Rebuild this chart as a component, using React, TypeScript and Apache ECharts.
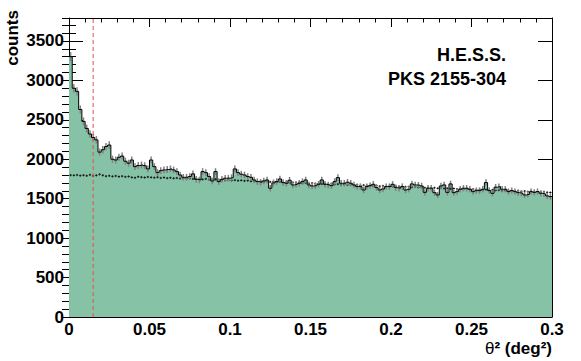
import React, { useEffect, useRef } from 'react';
import * as echarts from 'echarts';

// theta^2 histogram, bin width 0.002 deg^2, 150 bins from 0 to 0.3
const BIN_WIDTH = 0.002;
const X_MAX = 0.3;
const Y_MAX = 3790;
const THETA_CUT = 0.015;

const onCounts = [
  3300, 2900, 2860, 2630, 2480, 2390, 2320, 2275, 2245, 2090,
  2120, 2160, 2180, 2000, 1990, 2025, 2040, 1975, 1950, 1990,
  1906, 1920, 1927, 1918, 1877, 1990, 1906, 1830, 1855, 1864,
  1870, 1877, 1864, 1843, 1800, 1771, 1771, 1780, 1814, 1745,
  1737, 1843, 1830, 1780, 1724, 1843, 1716, 1745, 1759, 1759,
  1767, 1877, 1830, 1810, 1800, 1780, 1771, 1737, 1716, 1708,
  1725, 1737, 1632, 1700, 1716, 1750, 1704, 1695, 1733, 1674,
  1682, 1695, 1716, 1737, 1674, 1661, 1665, 1682, 1737, 1682,
  1674, 1665, 1716, 1767, 1695, 1695, 1708, 1695, 1674, 1653,
  1653, 1610, 1653, 1665, 1682, 1640, 1610, 1623, 1653, 1653,
  1682, 1640, 1632, 1653, 1610, 1619, 1687, 1674, 1670, 1661,
  1580, 1632, 1632, 1576, 1547, 1661, 1674, 1580, 1687, 1576,
  1589, 1619, 1632, 1632, 1619, 1589, 1602, 1602, 1619, 1704,
  1602, 1568, 1645, 1653, 1619, 1619, 1589, 1602, 1589, 1576,
  1568, 1547, 1555, 1589, 1580, 1589, 1568, 1560, 1535, 1526,
];

const offCounts = [
  1798, 1795, 1800, 1792, 1797, 1790, 1802, 1788, 1795, 1808,
  1796, 1785, 1790, 1782, 1788, 1779, 1785, 1776, 1781, 1770,
  1765, 1778, 1772, 1768, 1775, 1770, 1766, 1772, 1762, 1768,
  1760, 1765, 1758, 1762, 1754, 1760, 1752, 1756, 1750, 1755,
  1748, 1744, 1750, 1742, 1738, 1745, 1736, 1740, 1733, 1738,
  1730, 1735, 1728, 1732, 1725, 1729, 1720, 1726, 1718, 1722,
  1716, 1720, 1712, 1717, 1710, 1714, 1706, 1710, 1702, 1706,
  1700, 1704, 1696, 1700, 1692, 1697, 1689, 1693, 1686, 1690,
  1683, 1688, 1680, 1684, 1677, 1681, 1673, 1678, 1670, 1674,
  1667, 1671, 1664, 1668, 1661, 1665, 1658, 1662, 1655, 1659,
  1654, 1657, 1651, 1655, 1650, 1652, 1646, 1649, 1642, 1645,
  1638, 1641, 1634, 1638, 1631, 1635, 1628, 1632, 1625, 1629,
  1622, 1626, 1619, 1623, 1616, 1620, 1613, 1617, 1610, 1614,
  1607, 1611, 1604, 1608, 1601, 1605, 1598, 1602, 1595, 1599,
  1592, 1596, 1589, 1593, 1586, 1590, 1583, 1587, 1580, 1578,
];

const xTickLabels = ['0', '0.05', '0.1', '0.15', '0.2', '0.25', '0.3'];
const xTickStep = 0.05;
const yTickLabels = ['0', '500', '1000', '1500', '2000', '2500', '3000', '3500'];
const yTickStep = 500;

const FONT = '"Liberation Sans", Arial, Helvetica, sans-serif';
const GREEN = '#86c3a6';

export default function App() {
  const ref = useRef<HTMLDivElement>(null);

  useEffect(() => {
    if (!ref.current) return;
    const chart = echarts.init(ref.current, null, { renderer: 'svg' });

    const stepData: number[][] = onCounts.map((v, i) => [i * BIN_WIDTH, v]);
    stepData.push([onCounts.length * BIN_WIDTH, onCounts[onCounts.length - 1]]);

    const onErr = onCounts.map((v, i) => [(i + 0.5) * BIN_WIDTH, v, Math.sqrt(v)]);
    const offData = offCounts.map((v, i) => [i * BIN_WIDTH, (i + 1) * BIN_WIDTH, v, Math.sqrt(v) * 0.35]);

    const xLabelFmt = (v: number) => {
      const i = Math.round(v / xTickStep);
      return Math.abs(v - i * xTickStep) < 1e-9 && xTickLabels[i] !== undefined ? xTickLabels[i] : '';
    };
    const yLabelFmt = (v: number) => {
      const i = Math.round(v / yTickStep);
      return Math.abs(v - i * yTickStep) < 1e-6 && yTickLabels[i] !== undefined ? yTickLabels[i] : '';
    };

    const black = { color: '#000', width: 1 };
    const labelStyle = { fontFamily: FONT, fontWeight: 'bold' as const, fontSize: 17, color: '#000' };

    const baseX = {
      type: 'value' as const,
      min: 0,
      max: X_MAX,
      interval: xTickStep,
      splitLine: { show: false },
      minorSplitLine: { show: false },
      axisLine: { show: true, onZero: false, lineStyle: black },
      axisTick: { show: true, inside: true, length: 9, lineStyle: black },
      minorTick: { show: true, splitNumber: 5, length: 4.5, lineStyle: black },
    };

    const yMajor = (pos: 'left' | 'right', labels: boolean) => ({
      type: 'value' as const,
      position: pos,
      min: 0,
      max: Y_MAX,
      interval: yTickStep,
      splitLine: { show: false },
      axisLine: { show: true, onZero: false, lineStyle: black },
      axisTick: { show: true, inside: true, length: 14, lineStyle: black },
      axisLabel: labels
        ? { show: true, formatter: yLabelFmt, margin: 5, ...labelStyle }
        : { show: false },
    });
    const yMinor = (pos: 'left' | 'right') => ({
      type: 'value' as const,
      position: pos,
      min: 0,
      max: Y_MAX,
      interval: 100,
      splitLine: { show: false },
      axisLine: { show: false },
      axisTick: { show: true, inside: true, length: 7, lineStyle: black },
      axisLabel: { show: false },
    });

    chart.setOption({
      animation: false,
      backgroundColor: '#fff',
      grid: { left: 69, right: 29, top: 18, bottom: 44, containLabel: false },
      xAxis: [
        {
          ...baseX,
          position: 'bottom',
          axisLabel: { show: true, formatter: xLabelFmt, margin: 4, ...labelStyle },
        },
        { ...baseX, position: 'top', axisLabel: { show: false } },
      ],
      yAxis: [yMajor('left', true), yMinor('left'), yMajor('right', false), yMinor('right')],
      graphic: [
        {
          type: 'text',
          x: 506,
          y: 55,
          style: { text: 'H.E.S.S.', align: 'right', verticalAlign: 'middle', font: `bold 18px ${FONT}`, fill: '#000' },
        },
        {
          type: 'text',
          x: 506,
          y: 79,
          style: { text: 'PKS 2155-304', align: 'right', verticalAlign: 'middle', font: `bold 18px ${FONT}`, fill: '#000' },
        },
        {
          type: 'text',
          x: 12,
          y: 10,
          rotation: Math.PI / 2,
          style: { text: 'counts', align: 'right', verticalAlign: 'middle', font: `bold 17px ${FONT}`, fill: '#000' },
        },
        {
          type: 'text',
          x: 552,
          y: 348,
          style: {
            text: '{t|θ}{b|² (deg²)}',
            align: 'right',
            verticalAlign: 'middle',
            rich: {
              t: { fontFamily: FONT, fontSize: 17, fontWeight: 'normal', fill: '#000' },
              b: { fontFamily: FONT, fontSize: 17, fontWeight: 'bold', fill: '#000' },
            },
          },
        },
      ],
      series: [
        {
          name: 'ON area',
          type: 'line',
          step: 'end',
          data: stepData,
          symbol: 'none',
          lineStyle: { width: 0, opacity: 0 },
          areaStyle: { color: GREEN, opacity: 1, origin: 0 },
          z: 1,
          silent: true,
        },
        {
          name: 'OFF',
          type: 'custom',
          data: offData,
          z: 3,
          silent: true,
          renderItem: (_p: any, api: any) => {
            const x0 = api.value(0), x1 = api.value(1), y = api.value(2), e = api.value(3);
            const a = api.coord([x0, y]);
            const b = api.coord([x1, y]);
            const xm = (a[0] + b[0]) / 2;
            const t = api.coord([(x0 + x1) / 2, y + e]);
            const d = api.coord([(x0 + x1) / 2, y - e]);
            return {
              type: 'group',
              children: [
                { type: 'line', shape: { x1: a[0] + 0.5, y1: a[1], x2: b[0] - 0.5, y2: b[1] }, style: { stroke: '#111', lineWidth: 1 } },
                { type: 'line', shape: { x1: xm, y1: t[1], x2: xm, y2: d[1] }, style: { stroke: '#111', lineWidth: 0.8 } },
              ],
            };
          },
        },
        {
          name: 'ON errors',
          type: 'custom',
          data: onErr,
          z: 4,
          silent: true,
          renderItem: (_p: any, api: any) => {
            const x = api.value(0), y = api.value(1), e = api.value(2);
            const t = api.coord([x, y + e]);
            const d = api.coord([x, y - e]);
            return { type: 'line', shape: { x1: t[0], y1: t[1], x2: d[0], y2: d[1] }, style: { stroke: '#808080', lineWidth: 1.5 } };
          },
        },
        {
          name: 'ON',
          type: 'line',
          step: 'end',
          data: stepData,
          symbol: 'none',
          lineStyle: { color: '#000', width: 1 },
          z: 5,
          silent: true,
        },
        {
          name: 'cut',
          type: 'line',
          data: [[THETA_CUT, 0], [THETA_CUT, Y_MAX]],
          symbol: 'none',
          lineStyle: { color: '#e8504f', type: [4, 3], width: 1 },
          z: 6,
          silent: true,
        },
      ],
    });

    return () => chart.dispose();
  }, []);

  return <div ref={ref} style={{ position: 'absolute', left: 0, top: 0, width: 581, height: 361 }} />;
}
